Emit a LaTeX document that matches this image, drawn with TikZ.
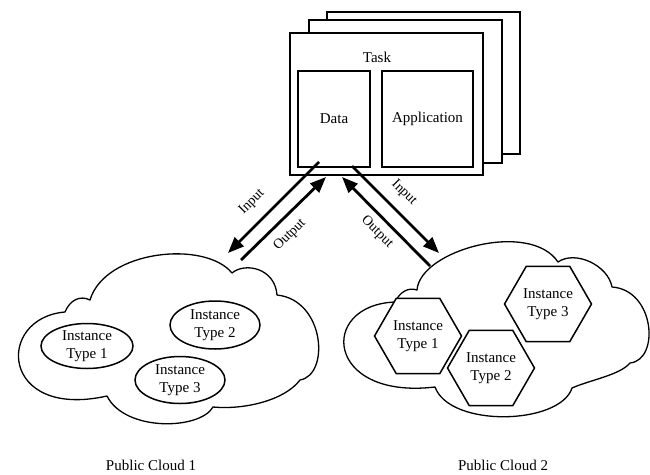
\documentclass[tikz,border=0pt]{standalone}
\usepackage{fontspec}
\setmainfont{Liberation Serif}
\usetikzlibrary{arrows.meta,shapes.geometric}
\begin{document}
\begin{tikzpicture}[x=1pt,y=-1pt,
  box/.style={draw,line width=1.6pt,fill=white,inner sep=0pt},
  lbl/.style={font=\fontsize{15}{18}\selectfont},
  inst/.style={ellipse,draw,line width=1.5pt,fill=white,align=center,inner sep=0pt,font=\fontsize{15}{18}\selectfont},
  hexa/.style={regular polygon,regular polygon sides=6,draw,line width=1.5pt,fill=white,minimum size=87pt,inner sep=0pt,align=center,font=\fontsize{15}{18}\selectfont},
  flow/.style={line width=2.8pt,-{Triangle[length=16pt,width=12.5pt]}},
  cloudline/.style={line width=1.3pt,line join=round},
  alabel/.style={font=\fontsize{14}{16}\selectfont,inner sep=0pt}]
\useasboundingbox (0,0) rectangle (650,474);

% task stack
\node[box,minimum width=193pt,minimum height=142pt,anchor=north west] (back2) at (326,11) {};
\node[box,minimum width=193pt,minimum height=143pt,anchor=north west] (back1) at (308,19) {};
\node[box,minimum width=193pt,minimum height=142pt,anchor=north west] (task) at (289,32) {};
\node[lbl] (tasklbl) at (377,57) {Task};
\node[box,lbl,minimum width=72pt,minimum height=96pt] (data) at (334,119) {Data};
\node[box,lbl,minimum width=91pt,minimum height=96pt] (app) at (427.5,119) {Application};

% arrow ends
\coordinate (inL0) at (319,162);
\coordinate (inL1) at (228,253);
\coordinate (outL0) at (241,260);
\coordinate (outL1) at (326,177);
\coordinate (outR0) at (430,266);
\coordinate (outR1) at (342,177);
\coordinate (inR0) at (352,166);
\coordinate (inR1) at (439,253);

% cloud 1
\draw[cloudline] (65,312) .. controls (70,300) and (80,295) .. (90,300)
 .. controls (105,250) and (205,240) .. (232,273)
 .. controls (245,262) and (275,268) .. (277,295)
 .. controls (325,300) and (330,375) .. (300,380)
 .. controls (285,400) and (245,410) .. (213,407)
 .. controls (200,430) and (125,432) .. (107,396)
 .. controls (0,420) and (-5,318) .. (65,312) -- cycle;

% cloud 2
\draw[cloudline] (417,290) .. controls (420,250) and (530,220) .. (558,262)
 .. controls (575,250) and (608,265) .. (612,287)
 .. controls (655,290) and (660,360) .. (630,363)
 .. controls (620,375) and (590,380) .. (572,388)
 .. controls (560,425) and (450,428) .. (435,387)
 .. controls (325,400) and (318,305) .. (395,302)
 .. controls (400,292) and (408,287) .. (417,290) -- cycle;

% instances, cloud 1
\node[inst,minimum width=92pt,minimum height=45pt] (c1t1) at (87,346) {Instance\\Type 1};
\node[inst,minimum width=90pt,minimum height=48pt] (c1t2) at (215,325) {Instance\\Type 2};
\node[inst,minimum width=90pt,minimum height=47pt] (c1t3) at (180,380) {Instance\\Type 3};

% instances, cloud 2
\node[hexa] (c2t1) at (418,336) {Instance\\Type 1};
\node[hexa] (c2t2) at (491,368) {Instance\\Type 2};
\node[hexa] (c2t3) at (548,304) {Instance\\Type 3};

% arrows
\draw[flow] (inL0) -- (inL1);
\draw[flow] (outL0) -- (outL1);
\draw[flow] (outR0) -- (outR1);
\draw[flow] (inR0) -- (inR1);

\node[alabel,rotate=45] (lin) at (252,202) {Input};
\node[alabel,rotate=45] (lout) at (290,235) {Output};
\node[alabel,rotate=-45] (rout) at (377,232) {Output};
\node[alabel,rotate=-45] (rin) at (404,193) {Input};

\node[lbl] (pc1) at (151,465) {Public Cloud 1};
\node[lbl] (pc2) at (503,465) {Public Cloud 2};
\end{tikzpicture}
\end{document}
